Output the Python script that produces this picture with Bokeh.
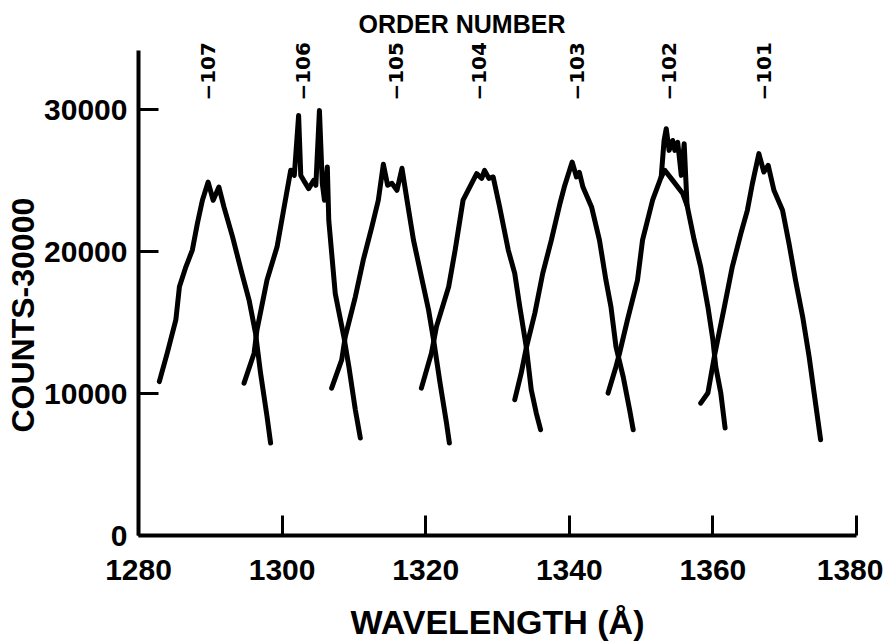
import math
from bokeh.plotting import figure
from bokeh.models import Range1d, FixedTicker, ColumnDataSource, LabelSet, Title
from bokeh.core.properties import value
from bokeh.embed import file_html
from bokeh.resources import INLINE

# ---- data ----
wl_107 = [1282.9, 1284.0, 1285.2, 1285.7, 1286.6, 1287.5, 1288.2, 1288.9, 1289.7, 1290.4,
          1291.2, 1291.9, 1293.1, 1294.4, 1295.4, 1296.3, 1297.0, 1297.9, 1298.4]
ct_107 = [10840, 12840, 15180, 17520, 18920, 20100, 21970, 23610, 24890, 23610,
          24540, 23140, 21030, 18460, 16580, 14240, 11430, 8380, 6510]

wl_106 = [1294.7, 1296.1, 1296.5, 1297.9, 1299.3, 1300.2, 1301.2, 1301.7, 1302.3, 1302.6,
          1303.0, 1303.7, 1304.4, 1304.7, 1305.2, 1305.6, 1305.9, 1306.3, 1306.5, 1307.4,
          1308.6, 1309.3, 1310.2, 1310.9]
ct_106 = [10730, 12840, 14470, 17990, 20330, 22900, 25720, 25360, 29580, 25360,
          25010, 24430, 25010, 24660, 29930, 24780, 23610, 25950, 22200, 17050,
          14000, 11890, 8850, 6860]

wl_105 = [1306.9, 1308.3, 1308.8, 1310.2, 1311.3, 1312.5, 1313.4, 1314.1, 1314.7, 1315.3,
          1316.0, 1316.7, 1317.4, 1318.3, 1319.4, 1320.4, 1321.1, 1322.0, 1322.9, 1323.3]
ct_105 = [10380, 12370, 14000, 16810, 19390, 21730, 23610, 26140, 24660, 24800,
          24310, 25860, 23610, 20800, 18220, 15880, 13770, 10730, 7920, 6510]

wl_104 = [1319.4, 1320.8, 1321.5, 1323.2, 1324.1, 1325.2, 1325.9, 1327.1, 1327.8, 1328.2,
          1328.8, 1329.4, 1330.3, 1331.5, 1332.4, 1333.1, 1334.0, 1334.7, 1335.4, 1336.0]
ct_104 = [10380, 12840, 14710, 17520, 20100, 23610, 24310, 25480, 25150, 25710,
          25150, 25250, 23140, 20100, 18460, 16110, 13300, 10260, 8620, 7450]

wl_103 = [1332.4, 1333.3, 1334.0, 1335.2, 1336.3, 1337.5, 1338.7, 1339.3, 1340.4, 1341.0,
          1341.4, 1341.9, 1343.1, 1344.2, 1345.1, 1345.8, 1346.5, 1347.5, 1348.4, 1348.9]
ct_103 = [9560, 11430, 13190, 15650, 18460, 20800, 23380, 24540, 26300, 25250,
          25570, 24540, 23140, 20800, 17990, 16110, 13300, 11190, 8850, 7450]

wl_102 = [1345.4, 1346.5, 1347.0, 1348.1, 1349.5, 1350.2, 1351.6, 1352.8, 1353.3, 1354.4,
          1355.8, 1356.4, 1357.4, 1358.3, 1359.3, 1360.0, 1360.4, 1361.1, 1361.7]
ct_102 = [10030, 11890, 12840, 15180, 17990, 20800, 23610, 25250, 25720, 25010,
          24080, 23250, 20800, 18920, 16110, 13770, 11890, 10030, 7570]

wl_102b = [1352.8, 1353.2, 1353.5, 1353.9, 1354.4, 1354.7, 1355.1, 1355.6, 1356.0, 1356.4]
ct_102b = [25250, 27820, 28650, 27120, 27820, 27120, 27680, 25360, 27590, 23250]

wl_101 = [1358.3, 1359.3, 1360.2, 1361.6, 1362.7, 1363.9, 1364.8, 1365.5, 1366.4, 1367.1,
          1367.7, 1368.5, 1369.7, 1370.6, 1371.5, 1372.5, 1373.4, 1374.1, 1375.0]
ct_101 = [9320, 10030, 12600, 16110, 18920, 21270, 22900, 24780, 26890, 25600,
          26070, 24310, 22900, 20570, 17990, 15410, 12600, 10030, 6750]

order_labels = ["\u2212107", "\u2212106", "\u2212105", "\u2212104", "\u2212103", "\u2212102", "\u2212101"]
order_wl = [1289.7, 1302.9, 1315.8, 1327.4, 1341.1, 1353.9, 1367.1]

x_ticks = [1280, 1300, 1320, 1340, 1360, 1380]
y_ticks = [0, 10000, 20000, 30000]
y_axis_top = 34170

FONT = "Liberation Sans"

p = figure(width=883, height=643, output_backend="svg", toolbar_location=None,
           x_range=Range1d(1280, 1380), y_range=Range1d(0, 35000),
           min_border_left=138, min_border_right=27, min_border_top=38,
           min_border_bottom=107)
p.outline_line_color = None
p.grid.visible = False
p.background_fill_color = "white"
p.border_fill_color = "white"

series = [(wl_107, ct_107), (wl_106, ct_106), (wl_105, ct_105), (wl_104, ct_104),
          (wl_103, ct_103), (wl_102, ct_102), (wl_102b, ct_102b), (wl_101, ct_101)]
for xs, ys in series:
    p.line(xs, ys, line_color="black", line_width=5, line_join="round", line_cap="round")

for ax in (p.xaxis[0], p.yaxis[0]):
    ax.axis_line_width = 4
    ax.axis_line_color = "black"
    ax.major_tick_line_width = 3
    ax.major_tick_line_color = "black"
    ax.major_tick_in = 20
    ax.major_tick_out = 0
    ax.minor_tick_line_color = None
    ax.major_label_text_font = FONT
    ax.major_label_text_font_style = "bold"
    ax.major_label_text_font_size = "30px"
    ax.major_label_text_color = "black"
    ax.axis_label_text_font = FONT
    ax.axis_label_text_font_style = "bold"
    ax.axis_label_text_color = "black"

p.xaxis.ticker = FixedTicker(ticks=x_ticks)
p.yaxis.ticker = FixedTicker(ticks=y_ticks)
p.yaxis.bounds = (0, y_axis_top)
p.xaxis.axis_label = "WAVELENGTH (Å)"
p.xaxis.axis_label_text_font_size = "34px"
p.xaxis.major_label_standoff = 24
p.xaxis.axis_label_standoff = 20
p.yaxis.major_label_standoff = 11

ylab = Title(text="COUNTS-30000", align="left", offset=103, text_font=FONT,
             text_font_style="bold", text_font_size="32px", text_color="black",
             standoff=2)
p.add_layout(ylab, "left")

p.title.text = "ORDER NUMBER"
p.title.align = "left"
p.title.offset = 220
p.title.text_font = FONT
p.title.text_font_style = "bold"
p.title.text_font_size = "25px"
p.title.text_color = "black"
p.title.standoff = 2

lab_src = ColumnDataSource(dict(x=order_wl, y=[30630] * len(order_wl), text=order_labels))
p.add_layout(LabelSet(x="x", y="y", text="text", source=lab_src, angle=math.pi / 2,
                      text_align="left", text_baseline="middle",
                      text_font=value("DejaVu Sans"), text_font_style="bold",
                      text_font_size="20px", text_color="black"))

open("out.html", "w").write(file_html(p, INLINE))
